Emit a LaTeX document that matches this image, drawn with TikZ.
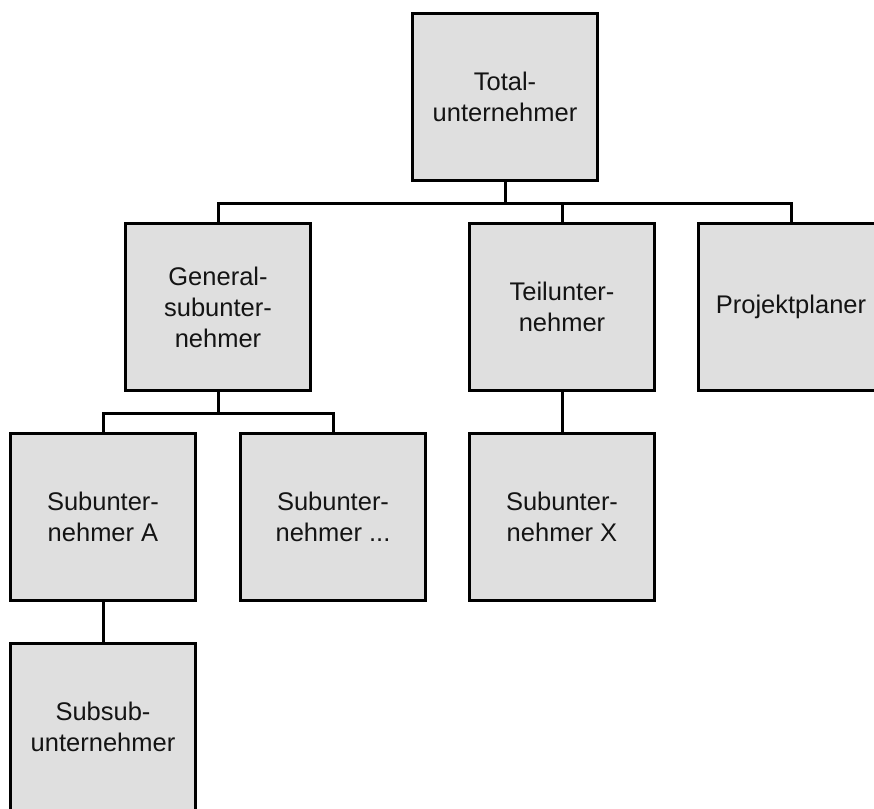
\documentclass[tikz,border=0pt]{standalone}
\usepackage{fontspec}
\setmainfont{Liberation Sans}
\begin{document}
\begin{tikzpicture}[x=1pt,y=-1pt,
  unit/.style={draw=black, line width=3pt, fill=boxgray, text=black!92,
    minimum width=185pt, minimum height=167pt, inner sep=0pt, align=center,
    font=\fontsize{25.5}{31}\selectfont},
  link/.style={line width=3pt, line join=miter}]
\definecolor{boxgray}{HTML}{DFDFDF}
\clip (0,0) rectangle (874,808);
\fill[white] (0,0) rectangle (874,808);

% organisational units
\node[unit] (total) at (505,97)  {Total-\\unternehmer};
\node[unit] (gen)   at (218,307) {General-\\subunter-\\nehmer};
\node[unit] (teil)  at (562,307) {Teilunter-\\nehmer};
\node[unit] (proj)  at (791,307) {Projektplaner};
\node[unit] (suba)  at (103,517) {Subunter-\\nehmer A};
\node[unit] (subn)  at (333,517) {Subunter-\\nehmer ...};
\node[unit] (subx)  at (562,517) {Subunter-\\nehmer X};
\node[unit] (subsub) at (103,727) {Subsub-\\unternehmer};

% bus lines of the hierarchy
\coordinate (bus1) at (505,203);
\coordinate (bus2) at (218,413);

\draw[link] (total.south) -- (bus1);
\draw[link] (gen.north) -- (gen.north |- bus1) -- (proj.north |- bus1) -- (proj.north);
\draw[link] (teil.north) -- (teil.north |- bus1);
\draw[link] (gen.south) -- (bus2);
\draw[link] (suba.north) -- (suba.north |- bus2) -- (subn.north |- bus2) -- (subn.north);
\draw[link] (teil.south) -- (subx.north);
\draw[link] (suba.south) -- (subsub.north);
\end{tikzpicture}
\end{document}
